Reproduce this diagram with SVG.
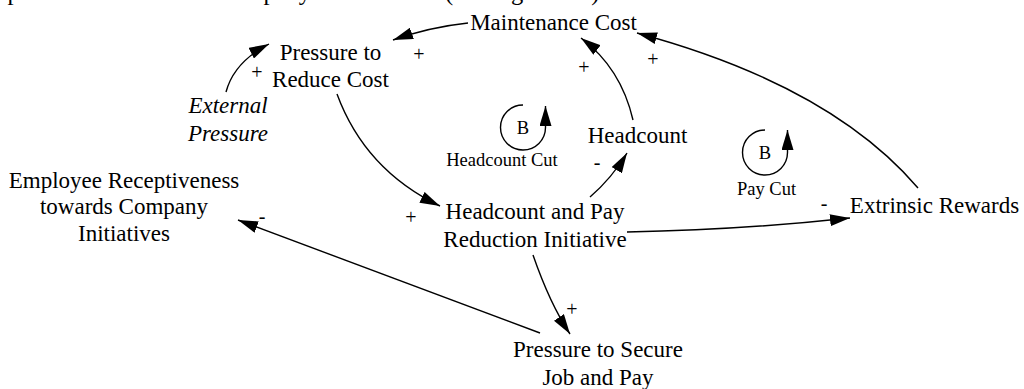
<svg xmlns="http://www.w3.org/2000/svg" width="1024" height="389" viewBox="0 0 1024 389">
<defs>
<style>
.t{font-family:"Liberation Serif","Times New Roman",serif;font-size:23px;fill:#000;text-anchor:middle}
.it{font-style:italic}
.sm{font-family:"Liberation Serif","Times New Roman",serif;font-size:18.5px;fill:#000;text-anchor:middle}
.pol{font-family:"Liberation Serif","Times New Roman",serif;font-size:20px;fill:#000;text-anchor:middle}
.body{font-family:"Liberation Serif","Times New Roman",serif;font-size:24.5px;fill:#000}
.ln{fill:none;stroke:#000;stroke-width:1.4;marker-end:url(#ah)}
</style>
<marker id="ah" viewBox="0 0 20 12" refX="20" refY="6" markerWidth="20" markerHeight="12" markerUnits="userSpaceOnUse" orient="auto">
<path d="M0,0 L20,6 L0,12 z" fill="#000"/>
</marker>
</defs>
<rect width="1024" height="389" fill="#fff"/>

<g id="page-text">
<text class="body" x="-2" y="-0.5">sponsiveness towards Company Initiatives</text>
<text class="body" x="445" y="-0.5">(see Figure 3.4).</text>
</g>

<g id="connectors">
<path class="ln" d="M468,23 Q430,27 393,40"/>
<path class="ln" d="M226,92 Q234,62 269,44"/>
<path class="ln" d="M337,94 Q365,170 440,206"/>
<path class="ln" d="M590,197 Q612,178 627,153"/>
<path class="ln" d="M633,120 Q621,68 581,38"/>
<path class="ln" d="M918,188 Q830,85 637,33"/>
<path class="ln" d="M627,232 Q740,230 850,218"/>
<path class="ln" d="M533,255 Q550,304 570,334"/>
<path class="ln" d="M540,333 L238,220"/>
</g>

<g id="polarities">
<text class="pol" x="419" y="60.5">+</text>
<text class="pol" x="257" y="78.5">+</text>
<text class="pol" x="411" y="223.5">+</text>
<text class="pol" x="597" y="169">-</text>
<text class="pol" x="584" y="73.5">+</text>
<text class="pol" x="653" y="65.5">+</text>
<text class="pol" x="824" y="210">-</text>
<text class="pol" x="572" y="315.5">+</text>
<text class="pol" x="262" y="223">-</text>
</g>

<g id="loop-headcount-cut">
<path class="ln" d="M523,105 A22.5,22.5 0 1,0 545.5,127.5 L545.5,106"/>
<text class="sm" x="523" y="134">B</text>
<text class="sm" x="502" y="166">Headcount Cut</text>
</g>

<g id="loop-pay-cut">
<path class="ln" d="M765,130 A22.5,22.5 0 1,0 787.5,152.5 L787.5,130"/>
<text class="sm" x="765" y="159">B</text>
<text class="sm" x="766.5" y="195">Pay Cut</text>
</g>

<g id="maintenance-cost">
<text class="t" x="553.5" y="30">Maintenance Cost</text>
</g>
<g id="pressure-to-reduce-cost">
<text class="t" x="330.5" y="60">Pressure to</text>
<text class="t" x="330.5" y="87">Reduce Cost</text>
</g>
<g id="external-pressure">
<text class="t it" x="228" y="113">External</text>
<text class="t it" x="228" y="141">Pressure</text>
</g>
<g id="headcount">
<text class="t" x="637.5" y="143">Headcount</text>
</g>
<g id="headcount-pay-reduction">
<text class="t" x="535" y="219">Headcount and Pay</text>
<text class="t" x="535" y="247">Reduction Initiative</text>
</g>
<g id="extrinsic-rewards">
<text class="t" x="934.5" y="213">Extrinsic Rewards</text>
</g>
<g id="employee-receptiveness">
<text class="t" x="124" y="188">Employee Receptiveness</text>
<text class="t" x="124" y="214">towards Company</text>
<text class="t" x="124" y="241">Initiatives</text>
</g>
<g id="pressure-to-secure">
<text class="t" x="598" y="357">Pressure to Secure</text>
<text class="t" x="598" y="385">Job and Pay</text>
</g>
</svg>
